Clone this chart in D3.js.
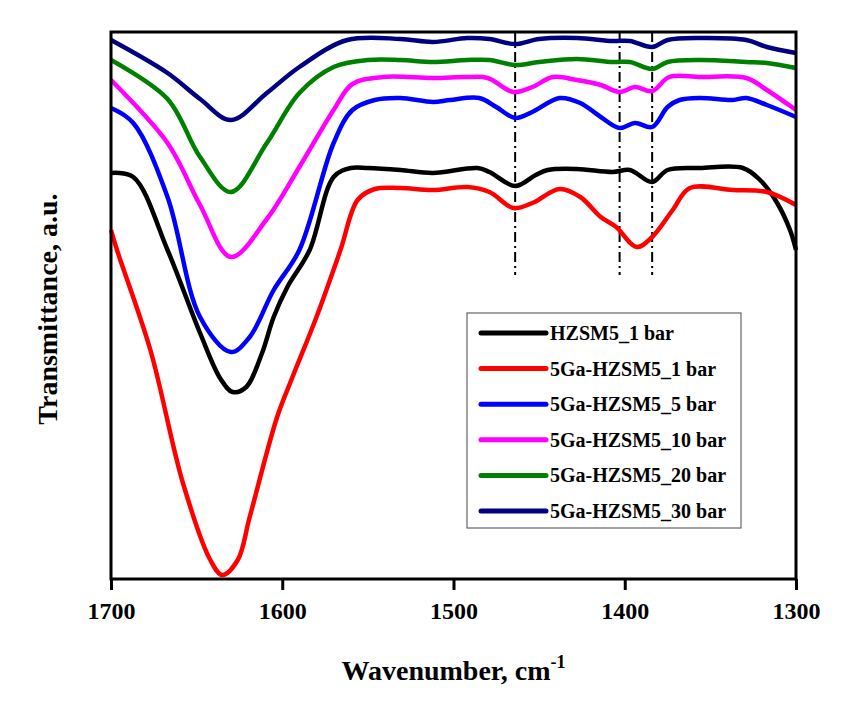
<!DOCTYPE html>
<html>
<head>
<meta charset="utf-8">
<script src="https://cdn.jsdelivr.net/npm/d3@7"></script>
<style>
  body { margin: 0; background: #fff; }
</style>
</head>
<body>
<div id="chart"></div>
<script>
// Chart parameters
var svgWidth = 843;
var svgHeight = 708;
var fontFamily = "Liberation Serif";

var margin = { top: 32, right: 47, bottom: 129, left: 111 };
var width = svgWidth - margin.left - margin.right;
var height = svgHeight - margin.top - margin.bottom;

// Data: [wavenumber, transmittance (a.u.)]
var seriesNames = ["HZSM5_1 bar", "5Ga-HZSM5_1 bar", "5Ga-HZSM5_5 bar",
                   "5Ga-HZSM5_10 bar", "5Ga-HZSM5_20 bar", "5Ga-HZSM5_30 bar"];
var seriesColors = ["#000000", "#ff0000", "#0000ff", "#ff00ff", "#008000", "#000080"];

var hzsm5_1 = [[1700,406],[1687,402],[1667,329],[1648,246],[1636,200],[1629,187],[1621,192],
  [1612,225],[1605,262],[1597,292],[1584,329],[1570,402],[1560,411],[1550,411],[1531,409],
  [1512,406],[1486,411],[1479,407],[1464,393],[1452,404],[1445,409],[1428,410],[1407,407],
  [1397,409],[1384,397],[1375,409],[1356,411],[1331,411],[1321,399],[1311,376],[1303.5,349],
  [1300,329]];
var ga_1 = [[1700,349],[1696.5,329],[1677,229],[1658,96],[1642,19],[1635,4],[1626,19],[1619,62],
  [1603,162],[1594,202],[1580,262],[1566,329],[1556,379],[1546,390],[1531,391],[1512,389],
  [1492,392],[1479,387],[1465,371],[1454,376],[1438,390],[1426,382],[1414,362],[1405,352],
  [1393,332],[1384,342],[1372,369],[1362,391],[1337,389],[1317,387],[1300,374]];
var ga_5 = [[1700,471],[1687,456],[1667,382],[1648,262],[1630,227],[1619,242],[1605,289],
  [1590,329],[1570,436],[1559,469],[1546,479],[1531,481],[1512,477],[1502,479],[1485,481],
  [1475,472],[1464,461],[1454,467],[1438,481],[1426,476],[1414,462],[1403,451],[1394,456],
  [1384,452],[1375,472],[1368,479],[1356,481],[1337,479],[1329,481],[1317,474],[1300,462]];
var ga_10 = [[1700,499],[1667,436],[1648,374],[1630,322],[1609,360],[1590,412],[1570,469],
  [1559,495],[1541,502],[1512,501],[1492,502],[1480,501],[1465,487],[1454,492],[1442,502],
  [1428,499],[1414,494],[1403,487],[1394,492],[1384,488],[1374,502],[1356,502],[1329,501],
  [1317,489],[1300,469]];
var ga_20 = [[1700,519],[1667,480],[1648,422],[1630,387],[1609,436],[1590,486],[1570,512],
  [1550,519],[1531,519],[1512,517],[1492,519],[1479,519],[1464,514],[1450,517],[1428,520],
  [1407,517],[1397,517],[1384,510],[1375,517],[1356,519],[1329,517],[1317,516],[1300,511]];
var ga_30 = [[1700,539],[1667,506],[1648,480],[1630,459],[1609,486],[1590,512],[1562,539],
  [1531,540],[1512,537],[1492,541],[1479,540],[1464,535],[1450,540],[1428,541],[1407,538],
  [1397,538],[1384,532],[1375,539],[1356,541],[1329,539],[1317,532],[1300,526]];

var seriesData = [hzsm5_1, ga_1, ga_5, ga_10, ga_20, ga_30];
var xTicks = [1700, 1600, 1500, 1400, 1300];
var markerLines = [1464, 1403, 1384];

var svg = d3.select("#chart")
  .append("svg")
  .attr("width", svgWidth)
  .attr("height", svgHeight);

svg.append("rect").attr("width", svgWidth).attr("height", svgHeight).attr("fill", "#fff");

var chartGroup = svg.append("g")
  .attr("transform", `translate(${margin.left}, ${margin.top})`);

// Scales
var xScale = d3.scaleLinear().domain([1700, 1300]).range([0, width]);
var yScale = d3.scaleLinear().domain([0, 547]).range([height, 0]);

// Axis
var bottomAxis = d3.axisBottom(xScale)
  .tickValues(xTicks)
  .tickSize(11)
  .tickPadding(12)
  .tickFormat(d3.format("d"));

var xAxis = chartGroup.append("g")
  .attr("transform", `translate(0, ${height})`)
  .call(bottomAxis)
  .attr("font-family", fontFamily)
  .attr("font-size", 24)
  .attr("font-weight", "bold");
xAxis.select(".domain").remove();
xAxis.selectAll("line").attr("stroke", "#000").attr("stroke-width", 3);
xAxis.selectAll("text").attr("fill", "#000");

// Dash-dot markers
chartGroup.selectAll(".marker")
  .data(markerLines)
  .enter()
  .append("line")
  .attr("x1", d => xScale(d))
  .attr("x2", d => xScale(d))
  .attr("y1", 0)
  .attr("y2", 243)
  .attr("stroke", "#000")
  .attr("stroke-width", 2)
  .attr("stroke-dasharray", "10,4,2,4");

// Spectra
var line = d3.line()
  .x(d => xScale(d[0]))
  .y(d => yScale(d[1]))
  .curve(d3.curveCatmullRom.alpha(0.5));

chartGroup.selectAll(".spectrum")
  .data(seriesData)
  .enter()
  .append("path")
  .attr("d", line)
  .attr("fill", "none")
  .attr("stroke", (d, i) => seriesColors[i])
  .attr("stroke-width", 4.5)
  .attr("stroke-linejoin", "round");

// Frame
chartGroup.append("rect")
  .attr("width", width)
  .attr("height", height)
  .attr("fill", "none")
  .attr("stroke", "#000")
  .attr("stroke-width", 3);

// Axis titles
svg.append("text")
  .attr("transform", "translate(57, 309) rotate(-90)")
  .attr("text-anchor", "middle")
  .attr("font-family", fontFamily)
  .attr("font-weight", "bold")
  .attr("font-size", 28)
  .text("Transmittance, a.u.");

var xTitle = svg.append("text")
  .attr("x", margin.left + width / 2)
  .attr("y", 680)
  .attr("text-anchor", "middle")
  .attr("font-family", fontFamily)
  .attr("font-weight", "bold")
  .attr("font-size", 28);
xTitle.append("tspan").text("Wavenumber, cm");
xTitle.append("tspan").attr("dy", -12).attr("font-size", 18).text("-1");

// Legend
var legend = svg.append("g");
legend.append("rect")
  .attr("x", 467).attr("y", 313)
  .attr("width", 274).attr("height", 215)
  .attr("fill", "#fff")
  .attr("stroke", "#666")
  .attr("stroke-width", 1.2);

var rows = legend.selectAll(".row")
  .data(seriesNames)
  .enter()
  .append("g")
  .attr("transform", (d, i) => `translate(0, ${333 + i * 35.6})`);

rows.append("line")
  .attr("x1", 481).attr("x2", 546)
  .attr("stroke", (d, i) => seriesColors[i])
  .attr("stroke-width", 5)
  .attr("stroke-linecap", "round");

rows.append("text")
  .attr("x", 550)
  .attr("y", 7)
  .attr("font-family", fontFamily)
  .attr("font-weight", "bold")
  .attr("font-size", 20)
  .text(d => d);
</script>
</body>
</html>
